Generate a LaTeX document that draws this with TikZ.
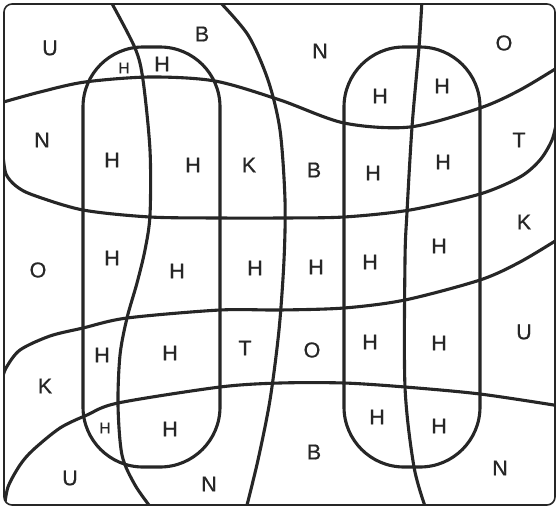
\documentclass[tikz,border=0pt]{standalone}
\usepackage{fontspec}
\setmainfont{Liberation Sans}
\newfontfamily\letterfont{Liberation Sans}[FakeBold=0.6]
\usepackage{tikz}

\begin{document}
\begin{tikzpicture}[x=1pt,y=-1pt,
  curve/.style={black!85,line width=3.1pt,line cap=round,line join=round},
  lbl/.style={font=\letterfont\fontsize{21.5}{24}\selectfont,text=black!85,inner sep=0pt},
  sml/.style={font=\letterfont\fontsize{15.5}{18}\selectfont,text=black!85,inner sep=0pt}]
  \useasboundingbox (0,0) rectangle (557,509);
  \fill[white] (0,0) rectangle (557,509);
  \begin{scope}
    \clip[rounded corners=8] (4,4) rectangle (555,505);
    \draw[curve,rounded corners=60] (83,47) rectangle (220,467);
    \draw[curve,rounded corners=60] (344,47) rectangle (480,467);
    \draw[curve] plot[smooth] coordinates {(110,0) (135,48) (143,80) (150,150) (150,215) (145,250) (137,283) (127,318) (120,355) (118,405) (122,455) (135,485) (152,509)};
    \draw[curve] plot[smooth] coordinates {(218,0) (248,35) (268,80) (280,130) (285,200) (284,260) (279,330) (270,400) (258,460) (246,509)};
    \draw[curve] plot[smooth] coordinates {(422,0) (419,47) (412,127) (407,212) (405,260) (405,387) (414,467) (426,509)};
    \draw[curve] plot[smooth] coordinates {(0,103) (40,92) (85,82) (150,77) (215,81) (280,100) (344,123) (410,127) (480,108) (520,90) (560,66)};
    \draw[curve] plot[smooth] coordinates {(3,155) (6,174) (16,186) (33,195) (83,210) (150,217) (220,218) (280,218) (344,217) (410,210) (480,194) (520,177) (540,160) (552,140) (557,120)};
    \draw[curve] plot[smooth] coordinates {(2,380) (6,368) (20,350) (50,336) (83,328) (127,318) (220,310) (280,310) (344,308) (405,300) (480,280) (520,262) (560,238)};
    \draw[curve] plot[smooth] coordinates {(4,510) (8,487) (20,465) (33,450) (60,428) (87,415) (118,403) (220,387) (280,383) (344,383) (405,387) (480,394) (560,406)};
  \end{scope}
  \draw[black!85,line width=1.6pt,rounded corners=8] (4,4) rectangle (555,505);
  \node[lbl] (u1) at (50,48) {U};
  \node[lbl] (b1) at (202,34) {B};
  \node[lbl] (n1) at (320,51) {N};
  \node[lbl] (o1) at (504,43) {O};
  \node[sml] (h1) at (124,68) {H};
  \node[lbl] (h2) at (162,64) {H};
  \node[lbl] (h3) at (380,96) {H};
  \node[lbl] (h4) at (442,86) {H};
  \node[lbl] (n2) at (42,140) {N};
  \node[lbl] (h5) at (112,160) {H};
  \node[lbl] (h6) at (193,165) {H};
  \node[lbl] (k1) at (249,165) {K};
  \node[lbl] (b2) at (314,170) {B};
  \node[lbl] (h7) at (373,173) {H};
  \node[lbl] (h8) at (443,162) {H};
  \node[lbl] (t1) at (519,140) {T};
  \node[lbl] (k2) at (524,222) {K};
  \node[lbl] (o2) at (38,270) {O};
  \node[lbl] (h9) at (112,258) {H};
  \node[lbl] (h10) at (177,271) {H};
  \node[lbl] (h11) at (255,268) {H};
  \node[lbl] (h12) at (316,267) {H};
  \node[lbl] (h13) at (370,262) {H};
  \node[lbl] (h14) at (439,246) {H};
  \node[lbl] (u2) at (524,332) {U};
  \node[lbl] (h15) at (102,355) {H};
  \node[lbl] (h16) at (170,353) {H};
  \node[lbl] (t2) at (245,348) {T};
  \node[lbl] (o3) at (312,350) {O};
  \node[lbl] (h17) at (370,342) {H};
  \node[lbl] (h18) at (439,343) {H};
  \node[lbl] (k3) at (45,386) {K};
  \node[sml] (h19) at (105,428) {H};
  \node[lbl] (h20) at (170,429) {H};
  \node[lbl] (h21) at (377,417) {H};
  \node[lbl] (h22) at (439,426) {H};
  \node[lbl] (b3) at (314,452) {B};
  \node[lbl] (u3) at (70,478) {U};
  \node[lbl] (n3) at (209,484) {N};
  \node[lbl] (n4) at (500,468) {N};
\end{tikzpicture}
\end{document}
